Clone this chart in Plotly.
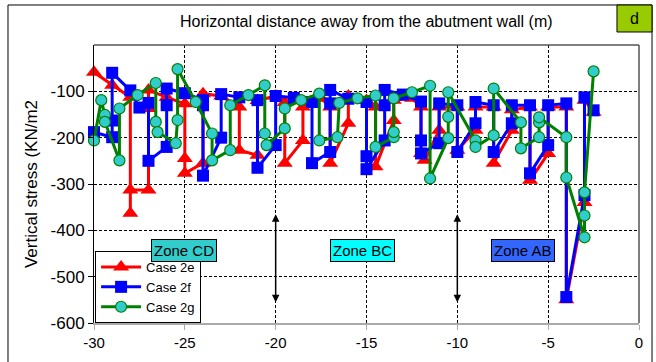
import plotly.graph_objects as go

# ---- data ----
red_x = [-30, -29, -28, -28, -28, -27, -27, -27, -26, -25, -25, -25, -24, -24, -23, -22, -22, -21, -21, -20,
         -19.5, -19.5, -18.5, -18.5, -17.5, -17, -17, -16, -16, -15, -14.5, -14.5, -13.5, -13.5, -12.5, -12, -12,
         -11.8, -11, -11, -10, -10, -9, -9, -8, -8, -7, -7, -6, -6, -5, -5, -4, -4, -3, -3, -2.5]
red_y = [-59, -87, -113, -363, -313, -313, -137, -97, -113, -127, -245, -277, -255, -105, -110, -134, -227, -238, -120, -110,
         -124, -255, -206, -134, -115, -134, -255, -169, -110, -120, -134, -263, -163, -119, -115, -134, -234,
         -249, -184, -134, -134, -227, -184, -134, -134, -255, -184, -140, -134, -292, -234, -134, -134, -550, -340, -119, -145]

blue_x = [-30, -29, -29, -29, -28, -27.5, -27, -27, -26, -26, -26, -25, -24, -24, -24, -23, -23, -22, -21, -21,
          -20, -20, -19, -18, -18, -17, -17, -17, -16, -15, -15, -15, -14, -14, -14, -13, -12, -12, -12, -11, -11,
          -10, -10, -9, -9, -8, -8, -7, -7, -6, -6, -5, -5, -4, -4, -3, -3, -2.5]
blue_y = [-188, -199, -163, -60, -98, -135, -125, -250, -220, -130, -94, -104, -119, -130, -282, -200, -106, -113, -119, -265,
          -216, -110, -114, -123, -255, -231, -126, -97, -116, -123, -240, -268, -206, -130, -97, -107, -122, -206, -234, -212, -126,
          -130, -231, -169, -123, -130, -231, -169, -130, -130, -277, -216, -130, -126, -544, -324, -113, -141]

green_x = [-30, -29.6, -29.4, -29.4, -28.6, -28.6, -27.6, -26.6, -26.6, -26.5, -25.5, -25.4, -25.4, -24.4, -23.5, -23.5,
           -22.5, -22.5, -21.5, -20.6, -20.6, -20.5, -19.5, -19.5, -18.6, -17.6, -17.6, -16.6, -16.5, -15.5, -14.5, -14.5,
           -13.5, -13.5, -13.5, -12.5, -11.5, -11.5, -10.5, -10.5, -10.5, -9, -9, -8, -8, -6.5, -6.5, -5.5, -5.5, -5.5,
           -4, -4, -3, -3, -3, -2.5]
green_y = [-206, -119, -151, -166, -249, -137, -108, -82, -166, -188, -212, -162, -52, -123, -191, -249,
           -227, -130, -108, -87, -191, -216, -180, -137, -119, -105, -206, -199, -125, -115, -109, -220,
           -199, -188, -115, -102, -88, -288, -201, -155, -102, -206, -220, -195, -94, -167, -223, -199, -167, -156,
           -199, -286, -415, -368, -318, -57]

x_ticks = [-30, -25, -20, -15, -10, -5, 0]
y_ticks = [-600, -500, -400, -300, -200, -100]

zones = ["Zone CD", "Zone BC", "Zone AB"]
zone_x = [-25.05, -15.2, -6.4]
zone_y = [-443, -443, -443]
zone_colors = ["#33cccc", "#00ffff", "#3366ff"]

arrow_x = [-20, -10]
arrow_top = -362
arrow_bottom = -555

FONT = "Liberation Sans, Arial, sans-serif"

fig = go.Figure()
fig.add_trace(go.Scatter(x=red_x, y=red_y, mode="lines+markers", name="Case 2e",
                         line=dict(color="#ff0000", width=3),
                         marker=dict(symbol="triangle-up", size=14, color="#ff0000"),
                         cliponaxis=False))
fig.add_trace(go.Scatter(x=blue_x, y=blue_y, mode="lines+markers", name="Case 2f",
                         line=dict(color="#0000ff", width=3),
                         marker=dict(symbol="square", size=12, color="#0000ff"),
                         cliponaxis=False))
fig.add_trace(go.Scatter(x=green_x, y=green_y, mode="lines+markers", name="Case 2g",
                         line=dict(color="#008000", width=3),
                         marker=dict(symbol="circle", size=11, color="#33cccc",
                                     line=dict(color="#008000", width=1.2)),
                         cliponaxis=False))

annotations = []
for name, zx, zy, zc in zip(zones, zone_x, zone_y, zone_colors):
    annotations.append(dict(x=zx, y=zy, xref="x", yref="y", text=name, showarrow=False,
                            font=dict(family=FONT, size=15, color="black"),
                            bgcolor=zc, bordercolor="black", borderwidth=1, borderpad=2))
for axv in arrow_x:
    annotations.append(dict(x=axv, y=arrow_bottom, ax=axv, ay=arrow_top, xref="x", yref="y",
                            axref="x", ayref="y", text="", showarrow=True,
                            arrowhead=2, arrowside="end+start", arrowsize=1, arrowwidth=1.5,
                            arrowcolor="black"))
annotations.append(dict(x=0.5, y=1.083, xref="paper", yref="paper",
                        text="Horizontal distance away from the abutment wall (m)",
                        showarrow=False, font=dict(family=FONT, size=16, color="black"),
                        xanchor="center", yanchor="middle"))
annotations.append(dict(x=0.9917, y=1.0955, xref="paper", yref="paper", text="d",
                        showarrow=False, font=dict(family=FONT, size=16, color="black"),
                        xanchor="center", yanchor="middle"))

shapes = [
    # outer frame
    dict(type="rect", xref="paper", yref="paper", x0=-0.1578, x1=1.0239, y0=-0.15, y1=1.1439,
         line=dict(color="black", width=1), fillcolor="rgba(0,0,0,0)", layer="below"),
    # "d" badge
    dict(type="rect", xref="paper", yref="paper", x0=0.9596, x1=1.0239, y0=1.0468, y1=1.1439,
         line=dict(color="black", width=1), fillcolor="#99cc00", layer="below"),
    # top and right plot borders
    dict(type="line", xref="paper", yref="paper", x0=0, x1=1, y0=1, y1=1,
         line=dict(color="#555555", width=1.5), layer="above"),
    dict(type="line", xref="paper", yref="paper", x0=1, x1=1, y0=0, y1=1,
         line=dict(color="#555555", width=1.5), layer="above"),
]

fig.update_layout(
    width=656, height=362,
    margin=dict(l=94, r=17, t=45, b=39, pad=0),
    paper_bgcolor="white", plot_bgcolor="white",
    font=dict(family=FONT, size=15, color="black"),
    showlegend=True,
    legend=dict(x=0.002, y=0.0, xanchor="left", yanchor="bottom",
                bgcolor="white", bordercolor="black", borderwidth=1,
                font=dict(family=FONT, size=13, color="black"),
                itemwidth=40, tracegroupgap=0),
    xaxis=dict(range=[-30, 0], tickvals=x_ticks, ticktext=[str(v) for v in x_ticks],
               showgrid=True, gridcolor="black", gridwidth=1, griddash="3px,2px",
               showline=True, linecolor="#aaaaaa", linewidth=2,
               ticks="outside", ticklen=5, tickcolor="#aaaaaa",
               zeroline=False, tickfont=dict(family=FONT, size=15, color="black")),
    yaxis=dict(range=[-600, 0], tickvals=y_ticks, ticktext=[str(v) for v in y_ticks],
               showgrid=True, gridcolor="black", gridwidth=1, griddash="3px,2px",
               showline=True, linecolor="black", linewidth=1,
               ticks="outside", ticklen=5, tickcolor="black",
               zeroline=False, tickfont=dict(family=FONT, size=17, color="black"),
               title=dict(text="Vertical stress (KN/m2", font=dict(family=FONT, size=17, color="black"),
                          standoff=8)),
    annotations=annotations,
    shapes=shapes,
)

fig.write_html("out.html")
